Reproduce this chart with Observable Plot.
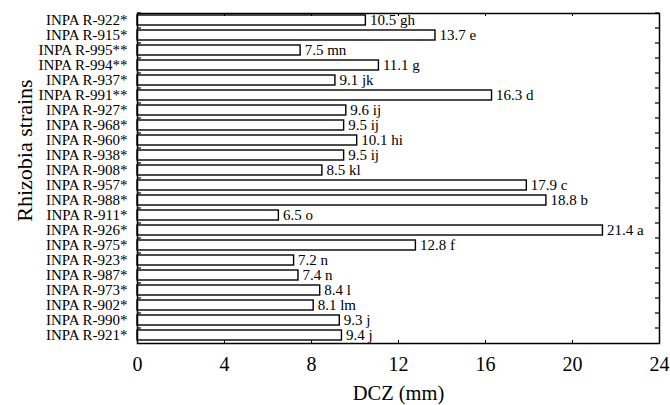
<!DOCTYPE html>
<html>
<head>
<meta charset="utf-8">
<script src="https://cdn.jsdelivr.net/npm/d3@7"></script>
<script src="https://cdn.jsdelivr.net/npm/@observablehq/plot@0.6"></script>
<style>
  html, body { margin: 0; padding: 0; background: #fff; }
  svg { overflow: visible; }
  #chart svg, #chart svg text { font-family: 'Liberation Serif', 'Times New Roman', serif !important; }
</style>
</head>
<body>
<div id="chart"></div>
<script>
const strains = ["INPA R-922*","INPA R-915*","INPA R-995**","INPA R-994**","INPA R-937*","INPA R-991**","INPA R-927*","INPA R-968*","INPA R-960*","INPA R-938*","INPA R-908*","INPA R-957*","INPA R-988*","INPA R-911*","INPA R-926*","INPA R-975*","INPA R-923*","INPA R-987*","INPA R-973*","INPA R-902*","INPA R-990*","INPA R-921*"];
const dcz = [10.5,13.7,7.5,11.1,9.1,16.3,9.6,9.5,10.1,9.5,8.5,17.9,18.8,6.5,21.4,12.8,7.2,7.4,8.4,8.1,9.3,9.4];
const letters = ["gh","e","mn","g","jk","d","ij","ij","hi","ij","kl","c","b","o","a","f","n","n","l","lm","j","j"];
const xTicks = [0,4,8,12,16,20,24];
const xLabel = "DCZ (mm)";
const yLabel = "Rhizobia strains";

const data = strains.map((s, i) => ({strain: s, value: dcz[i], group: letters[i]}));
const font = "'Liberation Serif', 'Times New Roman', serif";

const chart = Plot.plot({
  width: 670,
  height: 405,
  marginLeft: 137,
  marginRight: 11,
  marginTop: 13,
  marginBottom: 62,
  style: {fontFamily: font, background: "#fff", color: "#000"},
  x: {domain: [0, 24]},
  y: {domain: strains, paddingInner: 0.33, paddingOuter: 0.165},
  marks: [
    Plot.barX(data, {x: "value", y: "strain", fill: "white", stroke: "black", strokeWidth: 1.4}),
    Plot.text(data, {x: "value", y: "strain", text: d => `${d.value.toFixed(1)} ${d.group}`, textAnchor: "start", dx: 4, fontSize: 15, fontFamily: font, fill: "black"}),
    Plot.ruleX(xTicks, {x: d => d, insetBottom: 327, stroke: "black", strokeWidth: 1}),
    Plot.ruleX(xTicks, {x: d => d, insetTop: 327, stroke: "black", strokeWidth: 1}),
    Plot.tickY(strains, {y: d => d, dy: -7.5, insetLeft: 518, stroke: "black", strokeWidth: 1.2}),
    Plot.tickY(strains, {y: d => d, dy: -7.5, insetRight: 518, stroke: "black", strokeWidth: 1.2}),
    Plot.frame({stroke: "black", strokeWidth: 1.5}),
    Plot.axisX({ticks: xTicks, tickSize: 0, tickPadding: 13, fontSize: 20, fontFamily: font, label: null, tickFormat: d => String(d)}),
    Plot.axisY({tickSize: 0, tickPadding: 10, fontSize: 15, fontFamily: font, label: null}),
    Plot.text([xLabel], {frameAnchor: "bottom", dy: 50, fontSize: 20.5, fontFamily: font, textAnchor: "middle", lineAnchor: "middle", fill: "black"}),
    Plot.text([yLabel], {frameAnchor: "left", dx: -113, dy: -28, rotate: -90, fontSize: 22, fontFamily: font, textAnchor: "middle", lineAnchor: "middle", fill: "black"})
  ]
});
document.getElementById("chart").appendChild(chart);
</script>
</body>
</html>
